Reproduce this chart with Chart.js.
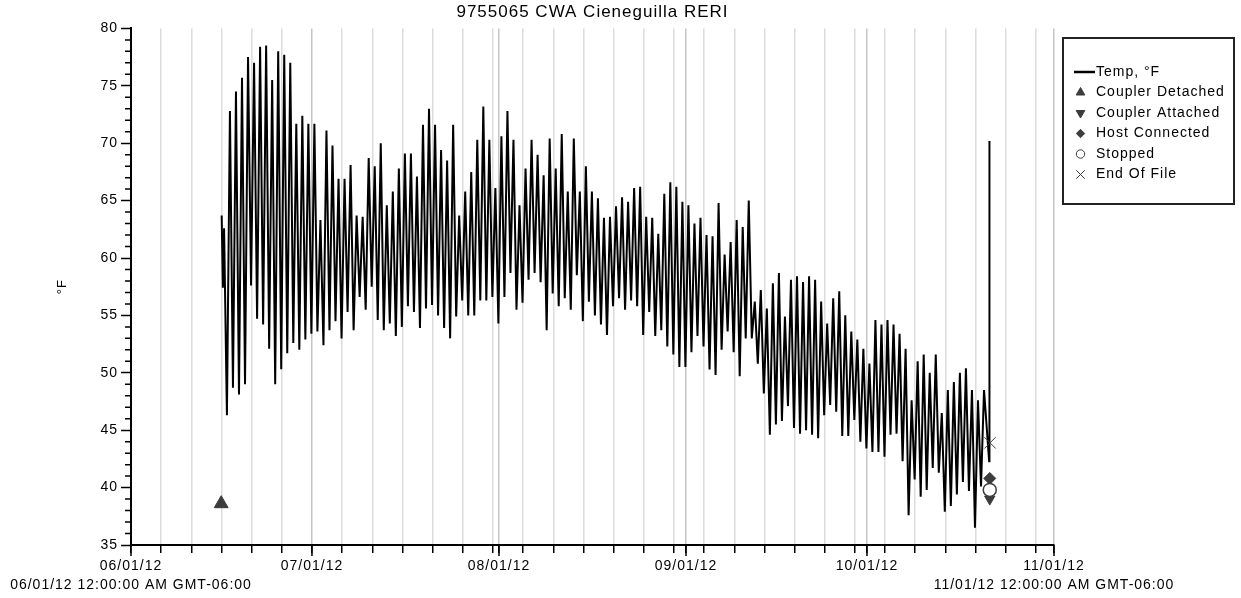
<!DOCTYPE html>
<html>
<head>
<title>9755065 CWA Cieneguilla RERI</title>
<script src="https://cdn.jsdelivr.net/npm/chart.js"></script>
<style>
  body { margin: 0; background: #fff; }
  #wrap { width: 1241px; height: 598px; }
</style>
</head>
<body>
<div id="wrap"><canvas id="temp"></canvas></div>
<script>
// x values are days counted from 06/01/12 12:00:00 AM
const launchDay = 15;
const firstTemps = [63.7, 57.4, 62.6];
// one low and one high reading per day after launch
const lows = [
  46.3, 48.7, 48.1, 49.0, 57.6, 54.7, 54.2, 52.1, 49.0, 50.3,
  51.7, 52.6, 52.0, 52.9, 53.4, 53.6, 52.4, 53.7, 54.5, 53.0,
  55.3, 53.7, 56.6, 55.5, 57.5, 54.6, 53.7, 54.3, 53.2, 54.0,
  55.8, 55.3, 53.9, 55.6, 55.9, 55.0, 53.9, 53.0, 54.9, 56.3,
  55.0, 55.0, 56.3, 56.3, 56.6, 54.3, 56.6, 58.7, 55.5, 56.1,
  58.1, 58.7, 57.9, 53.7, 56.9, 55.8, 56.5, 55.5, 58.5, 54.5,
  56.2, 55.0, 54.2, 53.3, 55.8, 56.5, 55.5, 56.3, 55.8, 53.3,
  55.3, 53.2, 53.7, 52.3, 51.6, 50.5, 50.5, 51.8, 53.2, 52.3,
  50.3, 49.8, 52.0, 53.6, 51.8, 49.7, 53.0, 53.0, 50.8, 48.2,
  44.6, 45.5, 45.8, 47.1, 45.2, 44.7, 45.0, 44.6, 44.3, 46.3,
  47.2, 46.6, 44.5, 44.5, 45.9, 44.0, 43.4, 43.1, 43.1, 42.7,
  44.6, 44.7, 42.3, 37.6, 40.7, 39.2, 39.8, 41.7, 41.3, 37.9,
  38.4, 39.4, 40.5, 39.7, 36.5, 40.1
];
const highs = [
  72.8, 74.5, 75.7, 77.5, 77.0, 78.4, 78.5, 75.5, 78.0, 77.7,
  77.0, 71.7, 72.4, 71.7, 71.7, 63.3, 71.1, 69.8, 66.9, 66.9,
  68.1, 63.7, 63.6, 68.7, 68.0, 70.0, 64.6, 65.8, 67.8, 69.1,
  69.1, 67.1, 71.6, 73.0, 71.6, 69.4, 68.5, 71.6, 63.7, 65.8,
  67.5, 70.3, 73.2, 70.3, 66.1, 70.6, 72.8, 70.3, 64.6, 67.8,
  70.3, 69.0, 67.2, 70.4, 67.8, 70.8, 65.8, 70.4, 65.8, 68.0,
  65.8, 65.2, 63.5, 63.6, 64.5, 65.3, 64.9, 66.1, 66.2, 63.6,
  63.5, 62.1, 65.6, 66.6, 66.2, 64.9, 64.6, 63.0, 63.5, 62.0,
  61.9, 64.8, 60.3, 61.4, 63.3, 62.7, 65.0, 56.2, 57.2, 55.6,
  57.8, 58.7, 54.9, 58.1, 58.4, 57.9, 58.4, 58.1, 56.2, 54.3,
  56.5, 57.1, 55.0, 53.6, 52.9, 52.1, 50.8, 54.6, 54.2, 54.6,
  54.2, 53.4, 52.1, 47.6, 51.0, 51.6, 50.0, 51.6, 46.5, 48.5,
  49.2, 50.0, 50.4, 48.5, 47.6, 48.5
];
const lastTemps = [42.3, 70.2];
const lastDays = [142.25, 142.3];

const eventNames = ['Coupler Detached', 'Coupler Attached', 'Host Connected', 'Stopped', 'End Of File'];
const eventDays = [14.95, 142.35, 142.35, 142.35, 142.4];
const eventTemps = [38.6, 39.0, 40.8, 39.8, 43.9];

const monthDays = [0, 30, 61, 92, 122, 153];
const monthLabels = [
  ['06/01/12', '06/01/12 12:00:00 AM GMT-06:00'],
  '07/01/12', '08/01/12', '09/01/12', '10/01/12',
  ['11/01/12', '11/01/12 12:00:00 AM GMT-06:00']
];

// build the temperature line
const tempPoints = [];
firstTemps.forEach((t, i) => tempPoints.push({x: launchDay + 0.03 + i * 0.2, y: t}));
lows.forEach((t, i) => {
  tempPoints.push({x: launchDay + 0.9 + i, y: t});
  tempPoints.push({x: launchDay + 1.4 + i, y: highs[i]});
});
lastTemps.forEach((t, i) => tempPoints.push({x: lastDays[i], y: t}));

// 5 day grid plus month starts
let tickDays = [];
for (let d = 0; d <= 150; d += 5) tickDays.push(d);
tickDays = [...new Set(tickDays.concat(monthDays))].sort((a, b) => a - b);

const FONT = '"Liberation Sans", Arial, sans-serif';
Chart.defaults.font.family = FONT;
Chart.defaults.color = '#000';

const markGrey = '#3c3c3c';
const eventStyles = [
  {pointStyle: 'triangle', pointRadius: 8, rotation: 0, backgroundColor: markGrey, borderColor: markGrey, borderWidth: 1},
  {pointStyle: 'triangle', pointRadius: 6, rotation: 180, backgroundColor: markGrey, borderColor: markGrey, borderWidth: 1},
  {pointStyle: 'rectRot', pointRadius: 6, rotation: 0, backgroundColor: markGrey, borderColor: markGrey, borderWidth: 1},
  {pointStyle: 'circle', pointRadius: 6.5, rotation: 0, backgroundColor: '#fff', borderColor: markGrey, borderWidth: 1.5},
  {pointStyle: 'crossRot', pointRadius: 8, rotation: 0, backgroundColor: markGrey, borderColor: markGrey, borderWidth: 1}
];
const eventOrder = [5, 5, 4, 3, 2];

const datasets = [{
  type: 'line',
  label: 'Temp, °F',
  data: tempPoints,
  borderColor: '#000',
  borderWidth: 2,
  pointRadius: 0,
  tension: 0,
  order: 10
}];
eventNames.forEach((name, i) => {
  datasets.push(Object.assign({
    type: 'scatter',
    label: name,
    data: [{x: eventDays[i], y: eventTemps[i]}],
    order: eventOrder[i]
  }, eventStyles[i]));
});

// the original font is wide, so open up the letters a little
const wideText = {
  id: 'wideText',
  beforeUpdate(chart) { chart.ctx.letterSpacing = '1px'; },
  beforeDraw(chart) { chart.ctx.letterSpacing = '1px'; }
};

// minor ticks on y, longer ticks at month starts on x
const extraTicks = {
  id: 'extraTicks',
  afterDraw(chart) {
    const {ctx} = chart;
    const x = chart.scales.x, y = chart.scales.y;
    ctx.save();
    ctx.strokeStyle = '#000';
    ctx.lineWidth = 1.5;
    ctx.beginPath();
    for (let v = 35; v <= 80; v++) {
      if (v % 5) {
        const py = y.getPixelForValue(v);
        ctx.moveTo(y.right - 6, py);
        ctx.lineTo(y.right, py);
      }
    }
    monthDays.forEach(d => {
      const px = x.getPixelForValue(d);
      ctx.moveTo(px, x.top);
      ctx.lineTo(px, x.top + 11);
    });
    ctx.stroke();
    ctx.restore();
  }
};

// boxed legend at the right
const boxLegend = {
  id: 'boxLegend',
  afterDraw(chart) {
    const ctx = chart.ctx;
    const left = chart.chartArea.right + 9, top = 38, w = 171, h = 166;
    ctx.save();
    ctx.strokeStyle = '#222';
    ctx.lineWidth = 2;
    ctx.strokeRect(left, top, w, h);
    ctx.font = '14px ' + FONT;
    ctx.textBaseline = 'middle';
    chart.data.datasets.forEach((ds, i) => {
      const yy = top + 34 + i * 20.5;
      if (i === 0) {
        ctx.strokeStyle = '#000';
        ctx.lineWidth = 2.5;
        ctx.beginPath();
        ctx.moveTo(left + 11, yy);
        ctx.lineTo(left + 32, yy);
        ctx.stroke();
      } else {
        ctx.fillStyle = ds.backgroundColor;
        ctx.strokeStyle = ds.borderColor;
        ctx.lineWidth = 1;
        const r = ds.pointStyle === 'crossRot' ? 6 : (ds.pointStyle === 'triangle' ? 5 : 4.2);
        Chart.helpers.drawPoint(ctx, {pointStyle: ds.pointStyle, rotation: ds.rotation, radius: r, borderWidth: 1}, left + 17.5, yy);
      }
      ctx.fillStyle = '#000';
      ctx.fillText(ds.label, left + 33, yy);
    });
    ctx.restore();
  }
};

new Chart(document.getElementById('temp'), {
  data: {datasets: datasets},
  options: {
    responsive: true,
    maintainAspectRatio: false,
    animation: false,
    layout: {padding: {left: 55, right: 187, top: 0, bottom: 0}},
    plugins: {
      legend: {display: false},
      tooltip: {enabled: false},
      title: {
        display: true,
        fullSize: false,
        text: '9755065 CWA Cieneguilla RERI',
        color: '#000',
        font: {size: 17, weight: 'normal'},
        padding: {top: 2, bottom: 6}
      }
    },
    scales: {
      x: {
        type: 'linear',
        min: 0,
        max: 153,
        afterBuildTicks: s => { s.ticks = tickDays.map(v => ({value: v})); },
        afterFit: s => { s.height = 53; },
        ticks: {
          autoSkip: false,
          maxRotation: 0,
          padding: 3,
          font: {size: 14, lineHeight: 1.4},
          callback: v => {
            const k = monthDays.indexOf(v);
            return k >= 0 ? monthLabels[k] : '';
          }
        },
        grid: {
          color: c => (c.tick && monthDays.includes(c.tick.value)) ? '#c6c6c6' : '#dcdcdc',
          lineWidth: 1.5,
          tickColor: '#000',
          tickLength: 8,
          tickWidth: 1.5
        },
        border: {color: '#000', width: 2}
      },
      y: {
        min: 35,
        max: 80,
        afterFit: s => { s.width = 76; },
        ticks: {stepSize: 5, padding: 3, font: {size: 14}},
        grid: {drawOnChartArea: false, tickLength: 10, tickColor: '#000', tickWidth: 1.5},
        border: {color: '#000', width: 2},
        title: {display: true, text: '°F', font: {size: 13}, padding: 0}
      }
    }
  },
  plugins: [wideText, extraTicks, boxLegend]
});
</script>
</body>
</html>
